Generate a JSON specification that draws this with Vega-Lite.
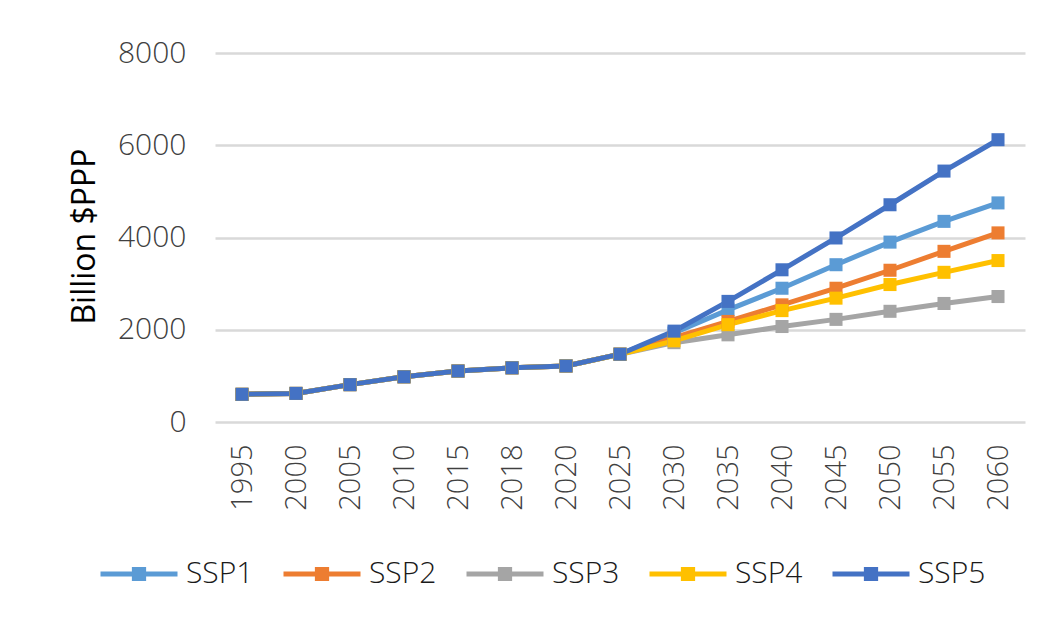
{
  "$schema": "https://vega.github.io/schema/vega-lite/v6.json",
  "autosize": {"type": "none"},
  "width": 810,
  "height": 369,
  "padding": {"left": 215, "top": 53, "right": 26, "bottom": 199},
  "background": "white",
  "config": {
    "view": {"stroke": null},
    "font": "Open Sans"
  },
  "data": {
    "values": [
      {"s": "SSP1", "year": "1995", "v": 600}, {"s": "SSP1", "year": "2000", "v": 620}, {"s": "SSP1", "year": "2005", "v": 810}, {"s": "SSP1", "year": "2010", "v": 980}, {"s": "SSP1", "year": "2015", "v": 1105}, {"s": "SSP1", "year": "2018", "v": 1175}, {"s": "SSP1", "year": "2020", "v": 1215}, {"s": "SSP1", "year": "2025", "v": 1470}, {"s": "SSP1", "year": "2030", "v": 1930}, {"s": "SSP1", "year": "2035", "v": 2430}, {"s": "SSP1", "year": "2040", "v": 2900}, {"s": "SSP1", "year": "2045", "v": 3410}, {"s": "SSP1", "year": "2050", "v": 3900}, {"s": "SSP1", "year": "2055", "v": 4350}, {"s": "SSP1", "year": "2060", "v": 4750},
      {"s": "SSP2", "year": "1995", "v": 600}, {"s": "SSP2", "year": "2000", "v": 620}, {"s": "SSP2", "year": "2005", "v": 810}, {"s": "SSP2", "year": "2010", "v": 980}, {"s": "SSP2", "year": "2015", "v": 1105}, {"s": "SSP2", "year": "2018", "v": 1175}, {"s": "SSP2", "year": "2020", "v": 1215}, {"s": "SSP2", "year": "2025", "v": 1470}, {"s": "SSP2", "year": "2030", "v": 1830}, {"s": "SSP2", "year": "2035", "v": 2180}, {"s": "SSP2", "year": "2040", "v": 2540}, {"s": "SSP2", "year": "2045", "v": 2900}, {"s": "SSP2", "year": "2050", "v": 3290}, {"s": "SSP2", "year": "2055", "v": 3700}, {"s": "SSP2", "year": "2060", "v": 4100},
      {"s": "SSP3", "year": "1995", "v": 600}, {"s": "SSP3", "year": "2000", "v": 620}, {"s": "SSP3", "year": "2005", "v": 810}, {"s": "SSP3", "year": "2010", "v": 980}, {"s": "SSP3", "year": "2015", "v": 1105}, {"s": "SSP3", "year": "2018", "v": 1175}, {"s": "SSP3", "year": "2020", "v": 1215}, {"s": "SSP3", "year": "2025", "v": 1470}, {"s": "SSP3", "year": "2030", "v": 1720}, {"s": "SSP3", "year": "2035", "v": 1890}, {"s": "SSP3", "year": "2040", "v": 2070}, {"s": "SSP3", "year": "2045", "v": 2225}, {"s": "SSP3", "year": "2050", "v": 2400}, {"s": "SSP3", "year": "2055", "v": 2570}, {"s": "SSP3", "year": "2060", "v": 2720},
      {"s": "SSP4", "year": "1995", "v": 600}, {"s": "SSP4", "year": "2000", "v": 620}, {"s": "SSP4", "year": "2005", "v": 810}, {"s": "SSP4", "year": "2010", "v": 980}, {"s": "SSP4", "year": "2015", "v": 1105}, {"s": "SSP4", "year": "2018", "v": 1175}, {"s": "SSP4", "year": "2020", "v": 1215}, {"s": "SSP4", "year": "2025", "v": 1470}, {"s": "SSP4", "year": "2030", "v": 1760}, {"s": "SSP4", "year": "2035", "v": 2110}, {"s": "SSP4", "year": "2040", "v": 2415}, {"s": "SSP4", "year": "2045", "v": 2685}, {"s": "SSP4", "year": "2050", "v": 2980}, {"s": "SSP4", "year": "2055", "v": 3245}, {"s": "SSP4", "year": "2060", "v": 3500},
      {"s": "SSP5", "year": "1995", "v": 600}, {"s": "SSP5", "year": "2000", "v": 620}, {"s": "SSP5", "year": "2005", "v": 810}, {"s": "SSP5", "year": "2010", "v": 980}, {"s": "SSP5", "year": "2015", "v": 1105}, {"s": "SSP5", "year": "2018", "v": 1175}, {"s": "SSP5", "year": "2020", "v": 1215}, {"s": "SSP5", "year": "2025", "v": 1470}, {"s": "SSP5", "year": "2030", "v": 1970}, {"s": "SSP5", "year": "2035", "v": 2615}, {"s": "SSP5", "year": "2040", "v": 3300}, {"s": "SSP5", "year": "2045", "v": 3990}, {"s": "SSP5", "year": "2050", "v": 4710}, {"s": "SSP5", "year": "2055", "v": 5440}, {"s": "SSP5", "year": "2060", "v": 6120}
    ]
  },
  "mark": {"type": "line", "strokeWidth": 5, "point": {"shape": "square", "size": 170, "filled": true, "opacity": 1}},
  "encoding": {
    "x": {
      "field": "year", "type": "ordinal", "sort": null,
      "scale": {"type": "point", "padding": 0.5},
      "axis": {
        "title": null, "labelAngle": -90, "labelFont": "Open Sans", "labelFontSize": 29, "labelFontWeight": 300,
        "labelColor": "#404040", "labelPadding": 22, "domain": false, "ticks": false, "grid": false
      }
    },
    "y": {
      "field": "v", "type": "quantitative",
      "scale": {"domain": [0, 8000], "nice": false},
      "axis": {
        "values": [0, 2000, 4000, 6000, 8000], "format": "d", "title": "Billion $PPP",
        "titleFont": "Open Sans", "titleFontSize": 32, "titleFontWeight": "normal", "titleColor": "#000000",
        "titleX": -131, "titleY": 183, "titleAngle": -90, "titleAlign": "center", "titleBaseline": "middle",
        "labelFont": "Open Sans", "labelFontSize": 30, "labelFontWeight": 300, "labelColor": "#404040", "labelPadding": 29,
        "domain": false, "ticks": false, "grid": true, "gridColor": "#d9d9d9", "gridWidth": 2.5
      }
    },
    "color": {
      "field": "s", "type": "nominal",
      "scale": {"domain": ["SSP1", "SSP2", "SSP3", "SSP4", "SSP5"], "range": ["#5B9BD5", "#ED7D31", "#A5A5A5", "#FFC000", "#4472C4"]},
      "legend": {
        "title": null, "orient": "none", "legendX": -117, "legendY": 480, "direction": "horizontal", "columns": 5,
        "symbolType": "M-1,0H1M-0.12,-0.12H0.12V0.12H-0.12Z", "symbolSize": 5929, "symbolStrokeWidth": 5,
        "labelFont": "Open Sans", "labelFontSize": 30, "labelFontWeight": 300, "labelColor": "#1a1a1a", "labelOffset": 6, "columnPadding": 19
      }
    }
  }
}
